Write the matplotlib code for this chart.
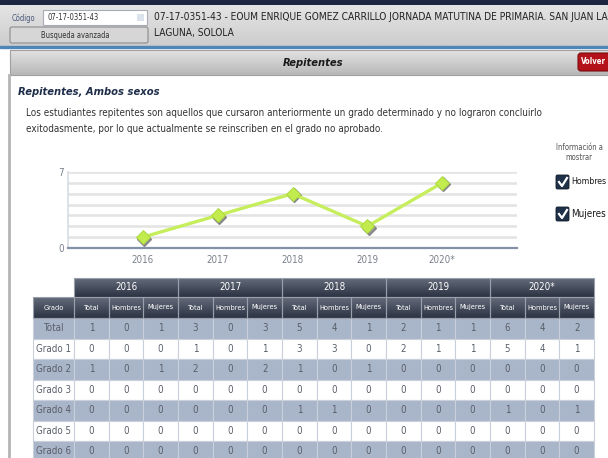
import matplotlib
matplotlib.use('Agg')
import matplotlib.pyplot as plt
from matplotlib.patches import Rectangle, FancyBboxPatch
import matplotlib.transforms as mtransforms
import numpy as np

# datos de la tabla de repitentes
anios = ['2016', '2017', '2018', '2019', '2020*']
subcols = ['Total', 'Hombres', 'Mujeres']
grados = ['Total', 'Grado 1', 'Grado 2', 'Grado 3', 'Grado 4', 'Grado 5', 'Grado 6']
fila_total = [1, 0, 1, 3, 0, 3, 5, 4, 1, 2, 1, 1, 6, 4, 2]
fila_g1 = [0, 0, 0, 1, 0, 1, 3, 3, 0, 2, 1, 1, 5, 4, 1]
fila_g2 = [1, 0, 1, 2, 0, 2, 1, 0, 1, 0, 0, 0, 0, 0, 0]
fila_g3 = [0, 0, 0, 0, 0, 0, 0, 0, 0, 0, 0, 0, 0, 0, 0]
fila_g4 = [0, 0, 0, 0, 0, 0, 1, 1, 0, 0, 0, 0, 1, 0, 1]
fila_g5 = [0, 0, 0, 0, 0, 0, 0, 0, 0, 0, 0, 0, 0, 0, 0]
fila_g6 = [0, 0, 0, 0, 0, 0, 0, 0, 0, 0, 0, 0, 0, 0, 0]
filas = [fila_total, fila_g1, fila_g2, fila_g3, fila_g4, fila_g5, fila_g6]

# serie de la grafica: total de repitentes por anio
repitentes = fila_total[0::3]

plt.rcParams['font.family'] = ['DejaVu Sans']
plt.rcParams['font.stretch'] = 'condensed'

fig = plt.figure(figsize=(6.08, 4.58), dpi=100)
pag = fig.add_axes([0, 0, 1, 1])
pag.axis('off')
pag.set_xlim(0, 608)
pag.set_ylim(458, 0)
rend = fig.canvas.get_renderer()


def degradado(ax, x0, y0, x1, y1, c_arriba, c_abajo, z=1):
    a = np.array(matplotlib.colors.to_rgb(c_arriba))
    b = np.array(matplotlib.colors.to_rgb(c_abajo))
    t = np.linspace(0, 1, 32)[:, None, None]
    img = a * (1 - t) + b * t
    ax.imshow(img, extent=(x0, x1, y1, y0), origin='upper', aspect='auto', zorder=z)


def ajustar(t, ancho):
    # escala el tamano de letra para que el texto ocupe 'ancho' pixeles
    w = t.get_window_extent(rend).width
    t.set_fontsize(t.get_fontsize() * ancho / w)
    return t.get_fontsize()


# barra superior
pag.add_patch(Rectangle((0, 0), 608, 5, color='#1c2640', zorder=1))
degradado(pag, 0, 5, 608, 46, '#e4e4e4', '#cdcdcd')
t = pag.text(12, 18, 'Código', fontsize=6.5, color='#4a5878', va='center', zorder=3)
ajustar(t, 24)
pag.add_patch(Rectangle((43, 10), 104, 15, facecolor='white', edgecolor='#a8acb4', lw=0.8, zorder=3))
pag.add_patch(Rectangle((137, 14), 7, 7, facecolor='#dde3ec', edgecolor='none', zorder=4))
t = pag.text(47, 17.5, '07-17-0351-43', fontsize=7.5, color='#333333', va='center', zorder=4)
ajustar(t, 51)
pag.add_patch(FancyBboxPatch((10, 27), 138, 16, boxstyle='round,pad=0,rounding_size=2',
                             facecolor='#d6d6d6', edgecolor='#8c8c8c', lw=0.8, zorder=3))
t = pag.text(41, 35.5, 'Busqueda avanzada', fontsize=7, color='#333333', va='center', zorder=4)
ajustar(t, 69)
t = pag.text(154, 17, '07-17-0351-43 - EOUM ENRIQUE GOMEZ CARRILLO JORNADA MATUTINA DE PRIMARIA. SAN JUAN LA',
             fontsize=8.5, color='#222222', va='center', zorder=3)
fs_tit = ajustar(t, 452)
pag.text(154, 33, 'LAGUNA, SOLOLA', fontsize=fs_tit, color='#222222', va='center', zorder=3)
pag.add_patch(Rectangle((0, 46), 608, 2, color='#4f86b8', zorder=2))

# encabezado del panel
degradado(pag, 10, 50, 608, 75, '#e2e2e2', '#b8b8b8')
pag.add_patch(Rectangle((10, 50), 600, 25, facecolor='none', edgecolor='#a0a0a0', lw=0.8, zorder=2))
t = pag.text(313, 63, 'Repitentes', fontsize=9.5, fontweight='bold', style='italic', color='#1a1a1a',
             ha='center', va='center', zorder=3)
ajustar(t, 61)
pag.add_patch(FancyBboxPatch((578, 53), 36, 18, boxstyle='round,pad=0,rounding_size=3',
                             facecolor='#b3121a', edgecolor='#7a0a0e', lw=0.8, zorder=3))
t = pag.text(581, 62, 'Volver', fontsize=8, fontweight='bold', color='white', va='center', zorder=4)
ajustar(t, 25)
pag.plot([9, 9], [75, 458], color='#b4b4b4', lw=2, zorder=2)

t = pag.text(18, 92, 'Repitentes, Ambos sexos', fontsize=9.5, fontweight='bold', style='italic',
             color='#1e2d4a', va='center', zorder=3)
ajustar(t, 143)
t = pag.text(26, 113, 'Los estudiantes repitentes son aquellos que cursaron anteriormente un grado '
             'determinado y no lograron concluirlo', fontsize=7.5, color='#333333', va='center', zorder=3)
fs_desc = ajustar(t, 511)
pag.text(26, 129, 'exitodasmente, por lo que actualmente se reinscriben en el grado no aprobado.',
         fontsize=fs_desc, color='#333333', va='center', zorder=3)

# opciones a la derecha
t = pag.text(579, 147, 'Información a', fontsize=6, color='#555555', ha='center', va='center', zorder=3)
fs_info = ajustar(t, 47)
pag.text(579, 158, 'mostrar', fontsize=fs_info, color='#555555', ha='center', va='center', zorder=3)
for yc, etiqueta in [(182, 'Hombres'), (214, 'Mujeres')]:
    pag.add_patch(FancyBboxPatch((556, yc - 7), 13, 14, boxstyle='round,pad=0,rounding_size=1.5',
                                 facecolor='#1f3149', edgecolor='#0f1a2a', lw=0.6, zorder=3))
    pag.plot([559, 562, 567], [yc, yc + 4, yc - 4], color='white', lw=1.6, zorder=4)
    t = pag.text(571, yc, etiqueta, fontsize=8, color='#1a1a1a', va='center', zorder=3)
    ajustar(t, 35)

# tabla
x_grado0, x_grado1 = 33, 74
ancho_col = 104 / 3
y_anio, y_sub, y_fila0, alto_fila = 278, 297, 318, 20.5
t = pag.text(0, -50, 'Hombres', fontsize=6)
fs_sub = ajustar(t, 30)
t.remove()
for i, anio in enumerate(anios):
    x0 = x_grado1 + i * 104
    degradado(pag, x0, y_anio, x0 + 104, y_sub, '#646c7c', '#2c3343', z=2)
    pag.add_patch(Rectangle((x0, y_anio), 104, y_sub - y_anio, facecolor='none',
                            edgecolor='#9aa0aa', lw=0.8, zorder=3))
    pag.text(x0 + 52, (y_anio + y_sub) / 2, anio, fontsize=7, color='white',
             ha='center', va='center', zorder=4)
degradado(pag, x_grado0, y_sub, x_grado1 + 5 * 104, y_fila0, '#646c7c', '#2c3343', z=2)
pag.add_patch(Rectangle((x_grado0, y_sub), x_grado1 - x_grado0, y_fila0 - y_sub, facecolor='none',
                        edgecolor='#9aa0aa', lw=0.8, zorder=3))
pag.text((x_grado0 + x_grado1) / 2, (y_sub + y_fila0) / 2, 'Grado', fontsize=fs_sub, color='white',
         ha='center', va='center', zorder=4)
for j in range(15):
    x0 = x_grado1 + j * ancho_col
    pag.add_patch(Rectangle((x0, y_sub), ancho_col, y_fila0 - y_sub, facecolor='none',
                            edgecolor='#9aa0aa', lw=0.8, zorder=3))
    pag.text(x0 + ancho_col / 2, (y_sub + y_fila0) / 2, subcols[j % 3], fontsize=fs_sub, color='white',
             ha='center', va='center', zorder=4)

for r, (grado, fila) in enumerate(zip(grados, filas)):
    y0 = y_fila0 + r * alto_fila
    fondo = '#a9b5c8' if r % 2 == 0 else 'white'
    pag.add_patch(Rectangle((x_grado0, y0), x_grado1 - x_grado0, alto_fila, facecolor=fondo,
                            edgecolor='#c9d0dc', lw=0.8, zorder=2))
    pag.text((x_grado0 + x_grado1) / 2, y0 + alto_fila / 2, grado, fontsize=7, color='#5a5f6a',
             ha='center', va='center', zorder=4)
    for j, v in enumerate(fila):
        x0 = x_grado1 + j * ancho_col
        pag.add_patch(Rectangle((x0, y0), ancho_col, alto_fila, facecolor=fondo,
                                edgecolor='#c9d0dc', lw=0.8, zorder=2))
        pag.text(x0 + ancho_col / 2, y0 + alto_fila / 2, str(v), fontsize=7, color='#5a5f6a',
                 ha='center', va='center', zorder=4)

pag.set_xlim(0, 608)
pag.set_ylim(458, 0)

# grafica de linea
ax = fig.add_axes([68 / 608, (458 - 248) / 458, 449 / 608, 76 / 458])
ax.set_facecolor('white')
pos = np.arange(1, len(anios) + 1)
ax.set_xlim(0, 6)
ax.set_ylim(0, 7)
for v in range(1, 8):
    ax.axhline(v, color='#e3e3e3', lw=1.8, zorder=1)
sombra = mtransforms.offset_copy(ax.transData, fig=fig, x=1.2, y=-1.5, units='dots')
ax.plot(pos, repitentes, ls='none', marker='D', ms=7.5, color='#6b6b6b', alpha=0.7,
        transform=sombra, zorder=2)
ax.plot(pos, repitentes, color='#c6ee5c', lw=2.4, marker='D', ms=7.5, mfc='#c2ec4e',
        mec='#a8d63a', mew=0.6, zorder=3)
ax.set_xticks(pos)
ax.set_xticklabels(anios)
ax.set_yticks([0, 7])
ax.tick_params(length=0, labelsize=7, colors='#7a808c', pad=5)
ax.tick_params(axis='y', pad=3)
for s in ['top', 'right']:
    ax.spines[s].set_visible(False)
ax.spines['left'].set_color('#d8dbe0')
ax.spines['left'].set_linewidth(1.2)
ax.spines['bottom'].set_color('#8391a8')
ax.spines['bottom'].set_linewidth(1.6)

fig.savefig('out.png', dpi=100)
